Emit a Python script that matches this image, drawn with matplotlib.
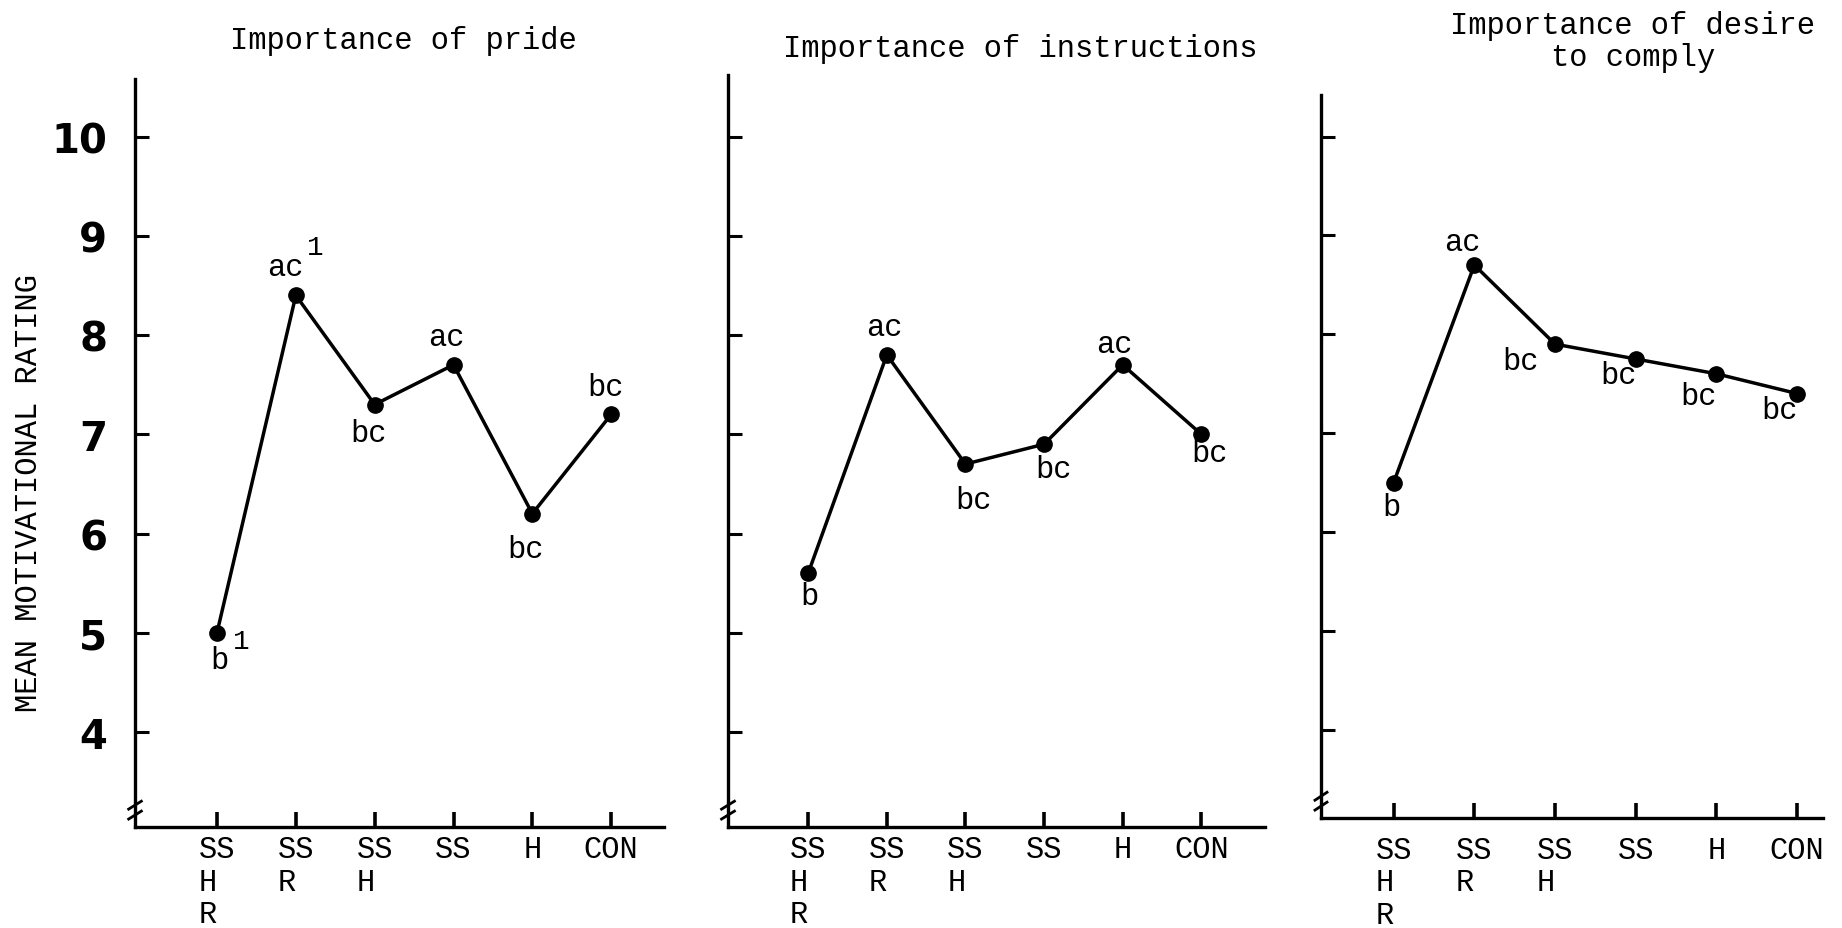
import matplotlib
matplotlib.use("Agg")
import matplotlib.pyplot as plt
import matplotlib.transforms as mtrans

# ---------------- data ----------------
categories = ["SS\nH\nR", "SS\nR", "SS\nH", "SS", "H", "CON"]
titles = ["Importance of pride", "Importance of instructions", "Importance of desire\nto comply"]
pride = [5.0, 8.4, 7.3, 7.7, 6.2, 7.2]
instructions = [5.6, 7.8, 6.7, 6.9, 7.7, 7.0]
comply = [6.5, 8.7, 7.9, 7.75, 7.6, 7.4]
pride_letters = ["b", "ac", "bc", "ac", "bc", "bc"]
instr_letters = ["b", "ac", "bc", "bc", "ac", "bc"]
comply_letters = ["b", "ac", "bc", "bc", "bc", "bc"]
pride_footnote = ["1", "1", "", "", "", ""]
yticks = [4, 5, 6, 7, 8, 9, 10]
ylabel = "MEAN MOTIVATIONAL RATING"

series = [pride, instructions, comply]
letters = [pride_letters, instr_letters, comply_letters]

# ---------------- layout ----------------
W, H = 1842, 929
fig = plt.figure(figsize=(W / 100, H / 100), dpi=100)
MONO = "Liberation Mono"

# (left, right, bottom, top) in pixels
boxes = [(135, 664, 828, 80), (728, 1265, 828, 76), (1321, 1823, 819, 96)]
xlims = [(-1.04, 5.67), (-1.02, 5.81), (-0.90, 5.32)]
ylims = [(3.043, 10.58), (3.043, 10.62), (3.107, 10.42)]
xpads = [5, 5, 12]

# label offsets in points (dx, dy) relative to each point
k = 0.846
off = [
    [(2, -23), (-9, 24), (-5, -24), (-6, 24), (-6, -30), (-5, 23)],
    [(1, -19), (-2, 24), (7, -31), (8, -21), (-7, 18), (7, -16)],
    [(-2, -21), (-10, 20), (-29, -14), (-15, -14), (-15, -19), (-15, -14)],
]
sup_off = [(21, -7), (17, 41)]

for i in range(3):
    l, r, b, t = boxes[i]
    ax = fig.add_axes([l / W, 1 - b / H, (r - l) / W, (b - t) / H])
    x = list(range(len(categories)))
    ax.plot(x, series[i], color="black", lw=2.5, marker="o", ms=11, mfc="black", mec="black", zorder=3)
    ax.set_xlim(*xlims[i])
    ax.set_ylim(*ylims[i])
    ax.spines["top"].set_visible(False)
    ax.spines["right"].set_visible(False)
    for s in ("left", "bottom"):
        ax.spines[s].set_linewidth(2.4)
    ax.set_yticks(yticks)
    ax.set_xticks(x)
    ax.set_xticklabels(categories, fontfamily=MONO, fontsize=22, multialignment="left",
                       linespacing=1.12, va="top")
    ax.tick_params(axis="x", direction="in", length=11, width=2.6, pad=xpads[i])
    ax.tick_params(axis="y", direction="in", length=10, width=2.2, pad=20)
    if i == 0:
        ax.set_yticklabels([str(v) for v in yticks], fontfamily="DejaVu Sans",
                           fontweight="bold", fontsize=29)
    else:
        ax.set_yticklabels([])
    for j, (v, lab) in enumerate(zip(series[i], letters[i])):
        dx, dy = off[i][j]
        ax.annotate(lab, (j, v), xytext=(dx * k, dy * k), textcoords="offset points",
                    ha="center", va="center", fontfamily=MONO, fontsize=22)
    if i == 0:
        for j, fn in enumerate(pride_footnote):
            if fn:
                dx, dy = sup_off[j]
                ax.annotate(fn, (j, series[0][j]), xytext=(dx * k, dy * k),
                            textcoords="offset points", ha="center", va="center",
                            fontfamily=MONO, fontsize=20)
    # axis break marks
    trans = mtrans.blended_transform_factory(ax.transAxes, ax.transData)
    yb = ylims[i][0] + 0.17
    for d in (-0.05, 0.05):
        ax.plot([-0.012, 0.012], [yb + d - 0.04, yb + d + 0.04], transform=trans,
                color="black", lw=2, clip_on=False)

# titles
fig.text(403 / W, 1 - 41 / H, titles[0], ha="center", va="center", fontfamily=MONO, fontsize=22)
fig.text(1020 / W, 1 - 49 / H, titles[1], ha="center", va="center", fontfamily=MONO, fontsize=22)
fig.text(1633 / W, 1 - 42 / H, titles[2], ha="center", va="center", fontfamily=MONO, fontsize=22,
         linespacing=1.1)

# y label
fig.text(29 / W, 1 - 493 / H, ylabel, rotation=90, ha="center", va="center",
         fontfamily=MONO, fontsize=22)

fig.savefig("out.png", dpi=100)
